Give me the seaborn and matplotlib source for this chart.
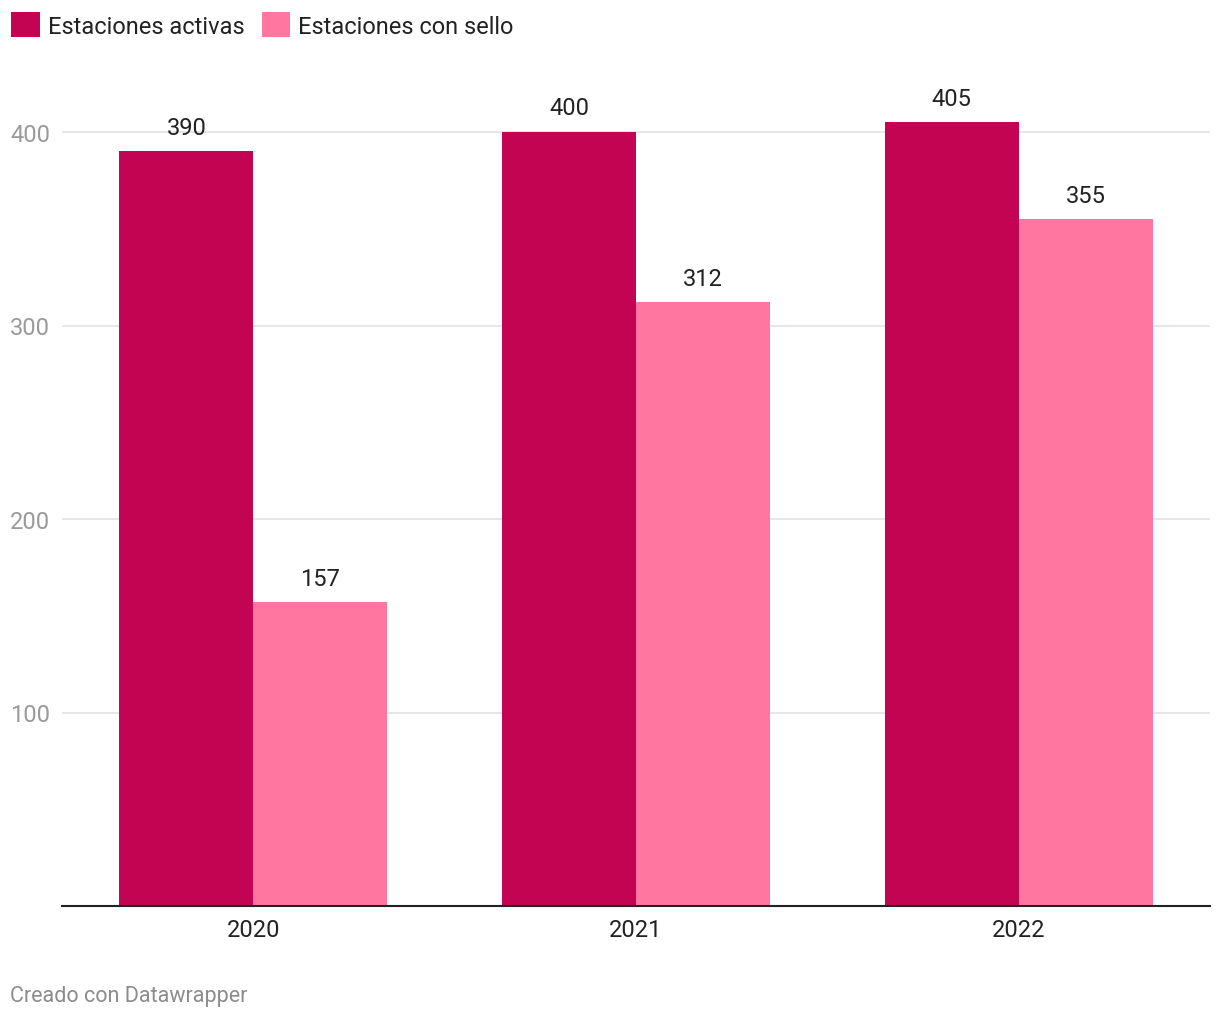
import matplotlib
matplotlib.use("Agg")
import matplotlib.pyplot as plt
import seaborn as sns
import pandas as pd

years = ["2020", "2021", "2022"]
activas = [390, 400, 405]
con_sello = [157, 312, 355]
series_names = ["Estaciones activas", "Estaciones con sello"]
colors = ["#c20452", "#ff76a0"]
yticks = [100, 200, 300, 400]

df = pd.DataFrame({
    "year": years * 2,
    "value": activas + con_sello,
    "serie": [series_names[0]] * 3 + [series_names[1]] * 3,
})

sns.set_theme(style="white")
plt.rcParams["font.family"] = ["Roboto", "DejaVu Sans"]

fig = plt.figure(figsize=(12.2, 10.2), dpi=100)
ax = fig.add_axes([62 / 1220, 1 - 907 / 1020, 1148 / 1220, (907 - 94.3) / 1020])

sns.barplot(data=df, x="year", y="value", hue="serie", palette=colors,
            width=0.7, ax=ax, saturation=1, edgecolor="none", linewidth=0)

ax.set_xlim(-0.5, 2.5)
ax.set_ylim(0, 420)
ax.set_yticks(yticks)
ax.set_yticklabels([str(t) for t in yticks])
ax.grid(axis="y", color="#e2e2e2", linewidth=1.2)
ax.set_axisbelow(True)
for s in ["top", "right", "left"]:
    ax.spines[s].set_visible(False)
ax.spines["bottom"].set_color("#222222")
ax.spines["bottom"].set_linewidth(1.5)
ax.spines["bottom"].set_zorder(5)
ax.set_xlabel("")
ax.set_ylabel("")

ax.tick_params(axis="y", length=0, pad=37.4, labelsize=17, labelcolor="#9a9a9a")
for lbl in ax.get_yticklabels():
    lbl.set_horizontalalignment("left")
ax.tick_params(axis="x", length=0, pad=9, labelsize=17, labelcolor="#222222")

for cont in ax.containers:
    ax.bar_label(cont, fmt="%d", padding=9, fontsize=17, color="#222222")

sns.move_legend(ax, "upper left", bbox_to_anchor=(2 / 1220, 1 - 4 / 1020),
                bbox_transform=fig.transFigure, ncol=2, frameon=False, title=None,
                fontsize=17, handlelength=1.2, handleheight=1.2,
                handletextpad=0.34, columnspacing=0.75, borderaxespad=0)
for t in ax.get_legend().get_texts():
    t.set_color("#222222")

fig.text(10 / 1220, 1 - 997 / 1020, "Creado con Datawrapper", fontsize=15.5,
         color="#8c8c8c", va="center", ha="left")

fig.savefig("out.png", dpi=100)
